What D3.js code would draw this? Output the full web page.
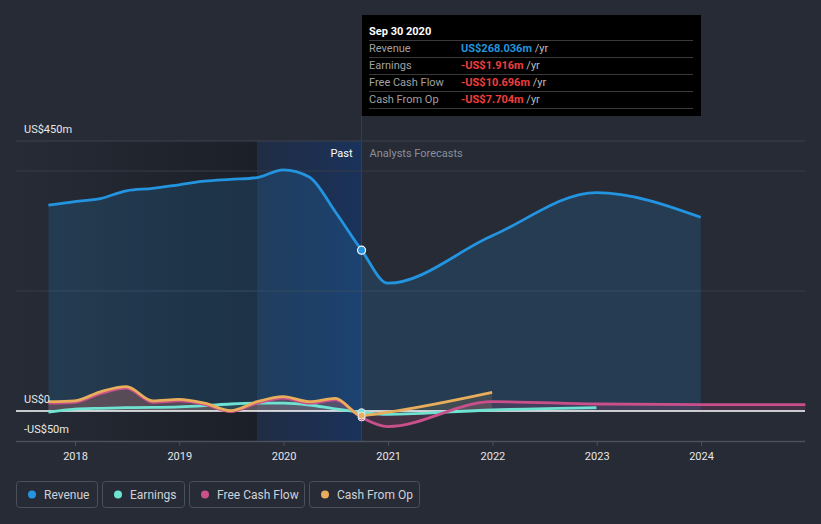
<!DOCTYPE html>
<html><head><meta charset="utf-8">
<script src="https://cdn.jsdelivr.net/npm/d3@7"></script>
<style>
html,body{margin:0;padding:0;background:#262b36;}
svg{display:block;font-family:Roboto,"Noto Sans",sans-serif;}
</style></head>
<body><svg id="c" width="821" height="524"></svg>
<script>
// ---- data ----
const pastDates = ["2017-09-30","2017-12-31","2018-03-31","2018-06-30","2018-09-30","2018-12-31","2019-03-31","2019-06-30","2019-09-30","2019-12-31","2020-03-31","2020-06-30","2020-09-30"];
const revenuePast  = [343, 349, 354, 367, 371, 377, 383, 386, 389, 402, 390, 332, 268.036];
const earningsPast = [-2, 3, 4.5, 5.5, 6, 7, 9, 11.7, 13, 13, 10, 3.5, -1.916];
const fcfPast      = [13, 14.5, 29, 38, 14.5, 17, 11, -1, 13, 21.5, 13, 18.5, -10.696];
const cfoPast      = [15.5, 17, 32, 40.5, 17, 19.5, 13, 0.5, 15.5, 24, 15.5, 21, -7.704];

const revenueFcDates = ["2020-09-30","2020-12-31","2021-12-31","2022-12-31","2023-12-31"];
const revenueFc      = [268.036, 213, 292, 364, 323];
const earningsFcDates = ["2020-09-30","2020-12-31","2021-12-31","2022-12-31"];
const earningsFc      = [-1.916, -5.5, 1.7, 5.5];
const fcfFcDates = ["2020-09-30","2020-12-31","2021-12-31","2022-12-31","2023-12-31","2024-12-31"];
const fcfFc      = [-10.696, -26, 15.5, 11.7, 10.5, 10.5];
const cfoFcDates = ["2020-09-30","2020-12-31","2021-12-31"];
const cfoFc      = [-7.704, -2, 31];

const yearTicks = ["2018","2019","2020","2021","2022","2023","2024"];
const yTickLabels = [{v:450,t:"US$450m"},{v:0,t:"US$0"},{v:-50,t:"-US$50m"}];
const gridValues = [400, 200];
const seriesNames = ["Revenue","Earnings","Free Cash Flow","Cash From Op"];
const seriesColors = ["#2394df","#6fe3d2","#c9508b","#e9ae5b"];
const tipDate = "2020-09-30";
const tipTitle = "Sep 30 2020";
const tipValues = ["US$268.036m","-US$1.916m","-US$10.696m","-US$7.704m"];

// ---- scales ----
const P = d3.timeParse("%Y-%m-%d");
const x = d3.scaleTime().domain([P("2018-01-01"), P("2024-01-01")]).range([75, 701]);
const y = d3.scaleLinear().domain([-50, 450]).range([441, 141]);
const X0 = 16, X1 = 805;
const svg = d3.select("#c");
const defs = svg.append("defs");

// backgrounds
const gPast = defs.append("linearGradient").attr("id","gpast").attr("x1","0").attr("x2","1").attr("y1","0").attr("y2","0");
gPast.append("stop").attr("offset","0").attr("stop-color","#000").attr("stop-opacity",0.0);
gPast.append("stop").attr("offset","1").attr("stop-color","#000").attr("stop-opacity",0.28);
const gBand = defs.append("linearGradient").attr("id","gband").attr("x1","0").attr("x2","1").attr("y1","0").attr("y2","0");
gBand.append("stop").attr("offset","0").attr("stop-color","#10306a").attr("stop-opacity",0.25);
gBand.append("stop").attr("offset","1").attr("stop-color","#10397a").attr("stop-opacity",0.55);

const tx = x(P(tipDate));
const bandStart = 257;
svg.append("rect").attr("x",X0).attr("y",y(450)).attr("width",bandStart-X0).attr("height",y(-50)-y(450)).attr("fill","url(#gpast)");
svg.append("rect").attr("x",bandStart).attr("y",y(450)).attr("width",tx-bandStart).attr("height",y(-50)-y(450)).attr("fill","url(#gband)");

// gridlines
svg.append("line").attr("x1",X0).attr("x2",X1).attr("y1",y(450)).attr("y2",y(450)).attr("stroke","#3c424e").attr("stroke-width",1);
gridValues.forEach(v=>{
  svg.append("line").attr("x1",X0).attr("x2",X1).attr("y1",y(v)).attr("y2",y(v)).attr("stroke","#363c48").attr("stroke-width",1);
});

// vertical marker
svg.append("line").attr("x1",tx).attr("x2",tx).attr("y1",116).attr("y2",y(-50)).attr("stroke","#24456e").attr("stroke-width",1);

// series
function series(dates, vals){ return dates.map((d,i)=>({d:P(d), v:vals[i]})); }
const S = [
  {past: series(pastDates, revenuePast),  fc: series(revenueFcDates, revenueFc),  c: seriesColors[0], a:0.17},
  {past: series(pastDates, earningsPast), fc: series(earningsFcDates, earningsFc), c: seriesColors[1], a:0.12},
  {past: series(pastDates, fcfPast),      fc: series(fcfFcDates, fcfFc),           c: seriesColors[2], a:0.18},
  {past: series(pastDates, cfoPast),      fc: series(cfoFcDates, cfoFc),           c: seriesColors[3], a:0.14},
];
const curve = d3.curveMonotoneX;
const line = d3.line().x(p=>x(p.d)).y(p=>y(p.v)).curve(curve);
const area = d3.area().x(p=>x(p.d)).y0(y(0)).y1(p=>y(p.v)).curve(curve);

// areas
S.forEach(s=>{
  const all = s.past.concat(s.fc.slice(1));
  svg.append("path").attr("d",area(all)).attr("fill",s.c).attr("fill-opacity",s.a);
});
// zero line
svg.append("line").attr("x1",X0).attr("x2",X1).attr("y1",y(0)).attr("y2",y(0)).attr("stroke","#ffffff").attr("stroke-width",1.5);
// lines (draw order: revenue, earnings, fcf, cfo)
[0,1,2,3].forEach(i=>{
  const s = S[i];
  const all = s.past.concat(s.fc.slice(1));
  svg.append("path").attr("d",line(all)).attr("fill","none").attr("stroke",s.c).attr("stroke-width",2.8).attr("stroke-linecap","butt");
});

// axis
svg.append("line").attr("x1",X0).attr("x2",X1).attr("y1",y(-50)+0.5).attr("y2",y(-50)+0.5).attr("stroke","#4a505c").attr("stroke-width",1.5);
const xa = svg.append("g").attr("transform",`translate(0,${y(-50)})`)
  .call(d3.axisBottom(x).tickValues(yearTicks.map(t=>P(t+"-01-01"))).tickFormat(d3.timeFormat("%Y")).tickSize(5).tickPadding(6));
xa.select(".domain").remove();
xa.selectAll(".tick line").attr("stroke","#4a505c");
xa.selectAll(".tick text").attr("fill","#e6e6e6").attr("font-size",11).attr("font-family","Roboto, sans-serif");

// y labels
yTickLabels.forEach(t=>{
  svg.append("text").attr("x",24).attr("y",y(t.v)-8).attr("fill","#e8e8e8").attr("font-size",11).text(t.t);
});

// Past / forecast labels
svg.append("text").attr("x",tx-9).attr("y",157).attr("text-anchor","end").attr("fill","#ffffff").attr("font-size",11).text("Past");
svg.append("text").attr("x",tx+8).attr("y",157).attr("fill","#8a8f99").attr("font-size",11).text("Analysts Forecasts");

// dots
[2,1,3].forEach(i=>{
  svg.append("circle").attr("cx",tx).attr("cy",y(S[i].past[S[i].past.length-1].v)).attr("r",3.5)
    .attr("fill",S[i].c).attr("stroke","#e8e8f0").attr("stroke-width",1);
});
svg.append("circle").attr("cx",tx).attr("cy",y(S[0].past[S[0].past.length-1].v)).attr("r",4)
  .attr("fill",S[0].c).attr("stroke","#ffffff").attr("stroke-width",1.2);

// tooltip
const tip = svg.append("g");
tip.append("rect").attr("x",362).attr("y",15).attr("width",339).attr("height",101).attr("fill","#000000");
tip.append("text").attr("x",369).attr("y",35).attr("fill","#ffffff").attr("font-size",11).attr("font-weight","bold").text(tipTitle);
[40.5,57.5,74.5,91.5,108.5].forEach(yy=>{
  tip.append("line").attr("x1",369).attr("x2",693).attr("y1",yy).attr("y2",yy).attr("stroke","#3a3a3a").attr("stroke-width",1);
});
seriesNames.forEach((n,i)=>{
  const yy = 52 + i*17;
  tip.append("text").attr("x",369).attr("y",yy).attr("fill","#a0a0a0").attr("font-size",11).text(n);
  const t = tip.append("text").attr("x",461).attr("y",yy).attr("font-size",11);
  t.append("tspan").attr("fill", i===0 ? "#2394df" : "#ee3e3e").attr("font-weight","bold").text(tipValues[i]);
  t.append("tspan").attr("fill","#bcbcbc").text(" /yr");
});

// legend
const legX = [16,102,189,309], legW = [81,82,115,110];
seriesNames.forEach((n,i)=>{
  const g = svg.append("g");
  g.append("rect").attr("x",legX[i]+0.5).attr("y",481.5).attr("width",legW[i]).attr("height",26).attr("rx",3)
    .attr("fill","none").attr("stroke","#4a505c").attr("stroke-width",1);
  g.append("circle").attr("cx",legX[i]+16).attr("cy",494.5).attr("r",4).attr("fill",seriesColors[i]);
  g.append("text").attr("x",legX[i]+28).attr("y",499).attr("fill","#cfd2d8").attr("font-size",12).text(n);
});
</script></body></html>
